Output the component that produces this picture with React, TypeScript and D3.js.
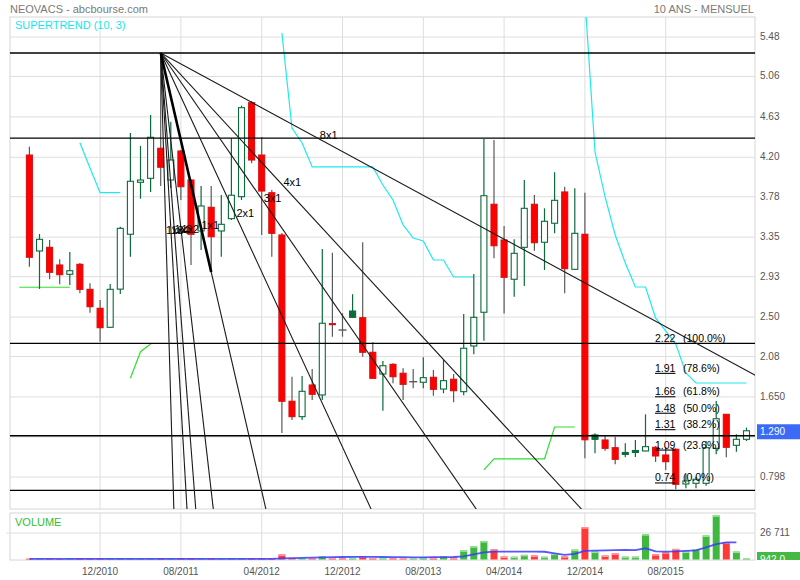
import React from "react";
import * as d3 from "d3";

// ---------- DATA ----------
const opens = [4.224, 3.203, 3.242, 3.054, 2.955, 3.061, 2.795, 2.593, 2.391, 2.797, 3.381, 3.934, 3.976, 4.296, 3.958, 4.267, 3.958, 3.416, 3.668, 3.416, 3.547, 3.781, 4.781, 4.224, 3.823, 3.373, 1.604, 1.44, 1.777, 1.671, 2.419, 2.362, 2.564, 2.493, 2.125, 1.894, 1.997, 1.902, 1.812, 1.806, 1.859, 1.734, 1.838, 1.706, 2.192, 2.551, 3.7, 3.32, 2.902, 3.242, 3.7, 3.296, 3.498, 3.831, 3.008, 3.381, 1.245, 1.192, 1.11, 1.059, 1.08, 1.075, 1.114, 1.032, 1.093, 0.724, 0.731, 0.731, 1.103, 1.465, 1.135, 1.199];
const highs = [4.313, 3.384, 3.32, 3.115, 3.192, 3.075, 2.859, 2.682, 2.852, 3.462, 4.459, 4.32, 4.65, 5.31, 4.579, 4.278, 3.969, 3.894, 3.894, 3.799, 4.402, 4.749, 4.799, 4.413, 3.852, 3.394, 1.865, 1.873, 1.947, 3.224, 3.185, 2.54, 2.742, 3.296, 2.231, 2.032, 2.008, 1.955, 1.947, 2.072, 1.937, 2.043, 1.894, 2.532, 2.958, 4.395, 4.384, 3.469, 3.327, 3.958, 3.799, 3.657, 4.04, 3.887, 3.87, 3.823, 1.263, 1.234, 1.227, 1.157, 1.192, 1.465, 1.128, 1.121, 1.103, 0.827, 0.801, 1.181, 1.607, 1.468, 1.252, 1.323];
const lows = [3.036, 2.799, 2.902, 2.849, 2.841, 2.753, 2.546, 2.238, 2.385, 2.745, 3.142, 3.759, 3.831, 3.894, 3.873, 3.746, 3.054, 3.214, 2.98, 3.142, 3.533, 3.746, 4.136, 3.373, 3.142, 1.266, 1.405, 1.405, 1.617, 1.617, 2.291, 2.291, 2.49, 2.078, 1.845, 1.504, 1.795, 1.617, 1.742, 1.742, 1.663, 1.689, 1.593, 1.667, 2.104, 2.248, 3.125, 2.537, 2.717, 2.83, 3.206, 3.001, 3.391, 2.753, 3.0, 0.997, 1.05, 1.078, 0.933, 1.008, 1.011, 1.07, 0.958, 0.873, 0.667, 0.678, 0.678, 0.706, 1.04, 1.008, 1.067, 1.181];
const closes = [3.136, 3.327, 2.976, 2.951, 2.993, 2.795, 2.61, 2.387, 2.795, 3.444, 3.945, 3.958, 4.413, 4.094, 4.171, 3.887, 3.381, 3.682, 3.355, 3.487, 3.796, 4.728, 4.171, 3.841, 3.391, 1.604, 1.44, 1.71, 1.678, 2.434, 2.43, 2.362, 2.497, 2.125, 1.848, 1.982, 1.865, 1.784, 1.812, 1.855, 1.731, 1.823, 1.716, 2.168, 2.497, 3.791, 3.259, 2.923, 3.178, 3.657, 3.291, 3.519, 3.742, 3.015, 3.391, 1.194, 1.199, 1.103, 0.986, 1.038, 1.059, 1.121, 1.022, 0.961, 0.72, 0.756, 0.774, 1.11, 1.418, 1.114, 1.199, 1.29];
const volumes = [800, 600, 700, 500, 600, 900, 700, 800, 900, 1100, 1000, 700, 900, 1200, 800, 900, 1000, 700, 800, 600, 900, 1100, 1000, 900, 800, 5100, 1200, 1300, 900, 3100, 1500, 1200, 1800, 3100, 1500, 1400, 1200, 1000, 800, 2000, 2000, 3100, 2000, 9200, 13300, 18500, 10300, 3000, 2800, 4700, 4100, 2800, 5900, 3200, 10000, 32500, 8000, 4000, 6100, 2900, 2900, 25500, 5300, 7300, 10700, 8000, 10400, 24200, 44500, 17300, 8000, 942];
const volumeMA = [700, 700, 700, 700, 700, 700, 700, 700, 700, 700, 700, 700, 700, 700, 700, 700, 700, 700, 700, 700, 700, 700, 700, 700, 700, 1200, 1400, 1600, 1800, 2200, 2400, 2500, 2600, 2700, 2600, 2500, 2400, 2300, 2200, 2200, 2300, 2400, 2500, 3100, 5100, 7200, 8000, 8000, 8000, 8000, 8000, 7800, 6200, 4600, 5600, 8700, 9000, 9200, 9500, 9700, 9500, 11300, 8200, 8000, 8200, 8700, 9200, 12300, 15400, 17200, 17200];

const supertrendUp = [
  { from: -1, values: [2.817, 2.817, 2.817, 2.817, 2.817, 2.817] },
  { from: 10, values: [1.848, 2.131, 2.213] },
  { from: 45, values: [0.873, 0.99, 0.99, 0.99, 0.99, 0.99, 0.99, 1.33, 1.33, 1.33] },
];
const supertrendDown = [
  { from: 5, values: [4.355, 4.086, 3.823, 3.823, 3.823] },
  { from: 25, values: [5.523, 4.512, 4.352, 4.097, 4.097, 4.097, 4.097, 4.097, 4.097, 4.097, 3.905, 3.746, 3.48, 3.341, 3.309, 3.107, 3.107, 2.926, 2.926, 2.926] },
  { from: 55, values: [5.895, 4.256, 3.778, 3.373, 3.075, 2.82, 2.82, 2.49, 2.352, 2.213, 1.905, 1.798, 1.798, 1.798, 1.798, 1.798, 1.798] },
];

const hLevels = [5.31, 4.405, 2.22, 1.237, 0.655];
const fanApex = { month: 13, price: 5.31 };
const fanPivot = { month: 18, price: 2.98 };
const fanRatios = [8, 4, 3, 2, 1, 1 / 2, 1 / 3, 1 / 4, 1 / 8];
const fanLabels = ["1x8", "1x4", "1x3", "1x2", "1x1", "2x1", "3x1", "4x1", "8x1"];
const fibLow = 0.74;
const fibHigh = 2.224;
const fibRatios = [1, 0.786, 0.618, 0.5, 0.382, 0.236, 0];

const priceTicks = [5.48, 5.06, 4.63, 4.2, 3.78, 3.35, 2.93, 2.5, 2.08, 1.65, 1.225, 0.798];
const priceTickLabels = ["5.48", "5.06", "4.63", "4.20", "3.78", "3.35", "2.93", "2.50", "2.08", "1.650", "1.225", "0.798"];
const xTickMonths = [7, 15, 23, 31, 39, 47, 55, 63];
const xTickLabels = ["12/2010", "08/2011", "04/2012", "12/2012", "08/2013", "04/2014", "12/2014", "08/2015"];
const volTick = 26711;
const volTickLabel = "26 711";
const lastPriceLabel = "1.290";
const lastVolLabel = "942.0";

// ---------- LAYOUT ----------
const P = { left: 10, right: 755, top: 17, bottom: 509 };
const V = { top: 513, bottom: 560 };
const FONT = "'Liberation Sans', Arial, sans-serif";
const GREEN = "#0b6b3b";
const RED = "#ff0000";
const GREY = "#5a5a5a";

const x = d3.scaleLinear().domain([0, 71]).range([29.4, 746.5]);
const y = d3.scaleLinear().domain([5.48, 0.798]).range([37, 477]);
const yv = d3.scaleLinear().domain([0, volTick]).range([559.5, 533]);

export default function App() {
  const lineGen = d3
    .line<{ m: number; v: number }>()
    .x((d) => x(d.m))
    .y((d) => y(d.v));
  const segPath = (s: { from: number; values: number[] }) =>
    lineGen(s.values.map((v, k) => ({ m: s.from + k, v }))) || "";

  const maPath =
    d3
      .line<number>()
      .x((_, i) => x(i))
      .y((d) => yv(d))(volumeMA) || "";

  const isUp = (i: number) => (i === 0 ? closes[i] >= opens[i] : closes[i] >= closes[i - 1]);

  // Gann fan
  const ax = x(fanApex.month);
  const ay = y(fanApex.price);
  const baseSlope = (fanPivot.price - fanApex.price) / (fanPivot.month - fanApex.month);
  const fan = fanRatios.map((r, k) => {
    const m2 = fanApex.month + 120;
    const p2 = fanApex.price + baseSlope * r * 120;
    const x2 = x(m2);
    const y2 = y(p2);
    const dx = x2 - ax;
    const dy = y2 - ay;
    const len = Math.hypot(dx, dy);
    return { x2, y2, lx: ax + (dx / len) * 181, ly: ay + (dy / len) * 181, label: fanLabels[k] };
  });

  const lastY = y(closes[closes.length - 1]);

  return (
    <svg
      width={800}
      height={580}
      style={{ position: "absolute", left: 0, top: 0, background: "#fff" }}
      fontFamily={FONT}
    >
      <defs>
        <clipPath id="clipMain">
          <rect x={P.left} y={P.top} width={P.right - P.left} height={P.bottom - P.top} />
        </clipPath>
        <clipPath id="clipVol">
          <rect x={P.left} y={V.top} width={P.right - P.left} height={V.bottom - V.top} />
        </clipPath>
        <clipPath id="clipTag">
          <rect x={P.right} y={0} width={60} height={V.bottom} />
        </clipPath>
      </defs>
      <rect x={0} y={0} width={800} height={580} fill="#fff" />

      {/* header */}
      <text x={10} y={13} fontSize={11} fill="#7a7a7a">NEOVACS - abcbourse.com</text>
      <text x={754} y={13} fontSize={11} fill="#7a7a7a" textAnchor="end">10 ANS - MENSUEL</text>

      {/* main grid */}
      {priceTicks.map((t, k) => (
        <line key={"hg" + k} x1={P.left} x2={P.right} y1={y(t)} y2={y(t)} stroke="#dedede" />
      ))}
      {xTickMonths.map((m, k) => (
        <g key={"vg" + k}>
          <line x1={x(m)} x2={x(m)} y1={P.top} y2={P.bottom} stroke="#dedede" />
          <line x1={x(m)} x2={x(m)} y1={V.top} y2={V.bottom} stroke="#dedede" />
        </g>
      ))}
      <rect x={P.left} y={P.top} width={P.right - P.left} height={P.bottom - P.top} fill="none" stroke="#d6d6d6" />
      <rect x={P.left} y={V.top} width={P.right - P.left} height={V.bottom - V.top} fill="none" stroke="#d6d6d6" />
      <line x1={6} x2={P.right} y1={yv(volTick)} y2={yv(volTick)} stroke="#dedede" />

      <text x={15} y={29} fontSize={11} fill="#19e3ef">SUPERTREND (10, 3)</text>

      <g clipPath="url(#clipMain)">
        {/* supertrend */}
        {supertrendUp.map((s, k) => (
          <path key={"su" + k} d={segPath(s)} fill="none" stroke="#2fe02f" strokeWidth={1.2} />
        ))}
        {supertrendDown.map((s, k) => (
          <path key={"sd" + k} d={segPath(s)} fill="none" stroke="#1ee9f2" strokeWidth={1.2} />
        ))}

        {/* candles */}
        {opens.map((o, i) => {
          const c = closes[i];
          const cx = x(i);
          const up = isUp(i);
          const doji = o === c;
          const col = doji ? GREY : up ? GREEN : RED;
          const wickCol = up && !doji ? GREEN : GREY;
          const top = y(Math.max(o, c));
          const bot = y(Math.min(o, c));
          const filled = c < o;
          return (
            <g key={"c" + i}>
              <line x1={cx} x2={cx} y1={y(highs[i])} y2={y(lows[i])} stroke={wickCol} strokeWidth={1.2} />
              {doji ? (
                <line x1={cx - 4} x2={cx + 4} y1={top} y2={top} stroke={col} strokeWidth={1.4} />
              ) : (
                <rect
                  x={cx - 3}
                  y={top}
                  width={6}
                  height={Math.max(1, bot - top)}
                  fill={filled ? (up ? GREEN : RED) : "#fff"}
                  stroke={up ? GREEN : "#d81010"}
                  strokeWidth={1.1}
                />
              )}
            </g>
          );
        })}

        {/* horizontal levels */}
        {hLevels.map((h, k) => (
          <line key={"hl" + k} x1={P.left} x2={P.right} y1={y(h)} y2={y(h)} stroke="#000" strokeWidth={1.3} />
        ))}

        {/* Gann fan */}
        {fan.map((f, k) => (
          <line key={"fan" + k} x1={ax} y1={ay} x2={f.x2} y2={f.y2} stroke="#1a1a1a" strokeWidth={1.1} />
        ))}
        <line x1={ax} y1={ay} x2={x(fanPivot.month)} y2={y(fanPivot.price)} stroke="#000" strokeWidth={2.6} />
        {fan.map((f, k) => (
          <text key={"fl" + k} x={f.lx} y={f.ly} fontSize={11} fill="#000">{f.label}</text>
        ))}

        {/* fib labels */}
        {fibRatios.map((r, k) => {
          const v = fibLow + r * (fibHigh - fibLow);
          const ty = y(v) - 1;
          return (
            <g key={"fib" + k}>
              <text x={655} y={ty} fontSize={10.5} fill="#000" style={{ textDecoration: "underline" }}>
                {v.toFixed(2)}
              </text>
              <text x={683} y={ty} fontSize={10.5} fill="#000">{`(${(r * 100).toFixed(1)}%)`}</text>
            </g>
          );
        })}
      </g>

      {/* price axis labels */}
      {priceTicks.map((t, k) =>
        Math.abs(y(t) - lastY) < 12 ? null : (
          <text key={"pl" + k} x={760} y={y(t) + 3} fontSize={10} fill="#555">{priceTickLabels[k]}</text>
        )
      )}
      <rect x={757} y={lastY - 6.5} width={43} height={15} fill="#3b6bf4" />
      <text x={760} y={lastY + 4.5} fontSize={10} fill="#fff">{lastPriceLabel}</text>

      {/* volume panel */}
      <text x={15} y={526} fontSize={11} fill="#33c033">VOLUME</text>
      <g clipPath="url(#clipVol)">
        {volumes.map((v, i) => {
          const up = isUp(i);
          const top = yv(v);
          const h = yv(0) - top;
          return (
            <g key={"v" + i}>
              <rect x={x(i) - 3.5} y={top} width={7} height={h} fill={up ? "#3fb83f" : "#ff3838"} />
              <rect x={x(i) - 3.5} y={top} width={7} height={Math.min(1.5, h)} fill={up ? "#9be39b" : "#ff9c9c"} />
            </g>
          );
        })}
        <path d={maPath} fill="none" stroke="#3a3aff" strokeOpacity={0.85} strokeWidth={1.8} />
      </g>
      <text x={760} y={yv(volTick) + 3} fontSize={10} fill="#555">{volTickLabel}</text>
      <g clipPath="url(#clipTag)">
        <rect x={757} y={552} width={43} height={15} fill="#44b944" />
        <text x={760} y={563} fontSize={10} fill="#fff">{lastVolLabel}</text>
      </g>

      {/* x axis labels */}
      {xTickMonths.map((m, k) => (
        <text key={"xl" + k} x={x(m)} y={575} fontSize={10} fill="#555" textAnchor="middle">
          {xTickLabels[k]}
        </text>
      ))}
    </svg>
  );
}
